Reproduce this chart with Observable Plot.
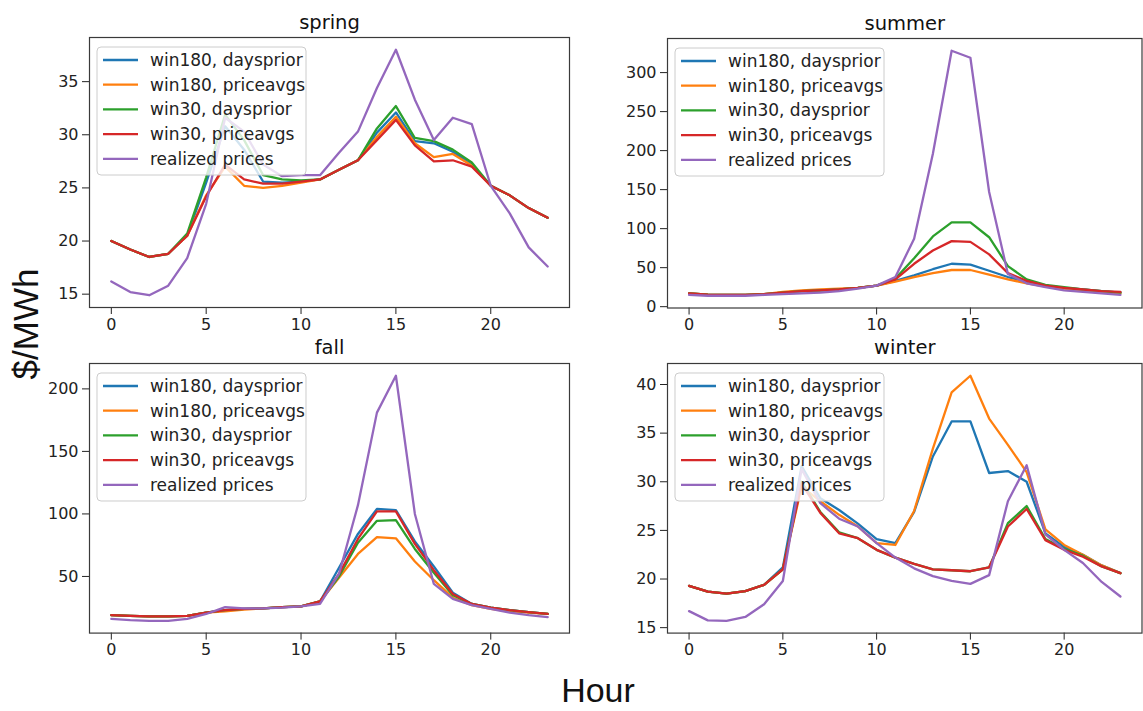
<!DOCTYPE html>
<html><head><meta charset="utf-8">
<script src="https://cdn.jsdelivr.net/npm/d3@7"></script>
<script src="https://cdn.jsdelivr.net/npm/@observablehq/plot@0.6"></script>
<style>
html,body{margin:0;padding:0;background:#fff;}
#wrap{position:relative;width:1143px;height:711px;overflow:hidden;background:#fff;}
#wrap svg{position:absolute;overflow:visible;}
</style></head><body><div id="wrap"></div>
<script>
// ---- data ----
const hours = d3.range(24);
const seriesNames = ["win180, daysprior", "win180, priceavgs", "win30, daysprior", "win30, priceavgs", "realized prices"];
const seriesColors = ["#1f77b4", "#ff7f0e", "#2ca02c", "#d62728", "#9467bd"];
const xTicks = [0, 5, 10, 15, 20];

const spring_win180_dp = [20.0,19.2,18.5,18.8,20.5,25.5,30.8,28.6,25.6,25.5,25.6,25.8,26.7,27.6,30.2,32.1,29.4,29.2,28.4,27.2,25.2,24.3,23.1,22.2];
const spring_win180_pa = [20.0,19.2,18.5,18.8,20.5,24.3,27.0,25.2,25.0,25.2,25.5,25.8,26.7,27.6,29.8,31.7,29.2,27.9,28.2,27.1,25.2,24.3,23.1,22.2];
const spring_win30_dp  = [20.0,19.2,18.5,18.8,20.7,26.0,31.9,29.5,26.2,25.8,25.7,25.8,26.7,27.6,30.6,32.7,29.7,29.4,28.6,27.4,25.2,24.3,23.1,22.2];
const spring_win30_pa  = [20.0,19.2,18.5,18.8,20.5,24.2,27.2,25.8,25.4,25.4,25.6,25.8,26.7,27.6,29.5,31.4,29.0,27.5,27.6,27.0,25.2,24.3,23.1,22.2];
const spring_realized  = [16.2,15.2,14.9,15.8,18.4,23.5,31.6,30.3,27.2,26.1,26.2,26.2,28.3,30.3,34.4,38.0,33.3,29.5,31.6,31.0,25.2,22.6,19.4,17.6];

const summer_win180_dp = [17,15.5,15,15,16,18,20,21,22,24,27,33,40,48,55,54,46,38,32,27,24,22,20,18];
const summer_win180_pa = [17,15.5,15,15,16,19,21,22,23,24,27,32,38,43,47,47,41,35,30,26,23,21,19,17];
const summer_win30_dp  = [17,15.5,15,15,16,18,20,21,22,24,27,36,62,90,108,108,89,52,35,28,25,22,20,18];
const summer_win30_pa  = [17,15.5,15,15,16,18,20,21,22,24,27,35,55,72,84,83,67,43,33,27,24,22,20,19];
const summer_realized  = [15,14,14,14,15,16,17,18,20,23,27,38,87,196,328,319,147,42,30,25,21,19,17,15];

const fall_win180_dp = [19,18.5,18,18,18.5,21,23,24,24.5,25.5,26,30,57,84,104,103,78,58,37,28,25,23,21.5,20];
const fall_win180_pa = [19,18.5,18,18,18.5,21,22,23.5,24.5,25.5,26,30,49,68,81.5,80.5,62,47,33,27,24,22,21,20];
const fall_win30_dp  = [19,18.5,18,18,18.5,21,23,24,24.5,25.5,26,30,50,77,94.5,95,72,53,35,28,25,23,21.5,20];
const fall_win30_pa  = [19,18.5,18,18,18.5,21,23,24,24.5,25.5,26,30,52,80,102,102,76,55,36,28,25,23,21.5,20];
const fall_realized  = [16,15,14.5,14.5,16,20,25.5,24.5,24.5,25,26,28,52,107,181,210.5,100,44,32,27,24,21,19,17.5];

const winter_win180_dp = [19.3,18.7,18.5,18.75,19.4,21.2,31.6,28.3,27.1,25.7,24.1,23.7,26.9,32.6,36.2,36.2,30.9,31.1,30.0,24.7,23.3,22.5,21.4,20.6];
const winter_win180_pa = [19.3,18.7,18.5,18.75,19.4,21.0,29.5,28.0,26.6,25.4,23.7,23.5,27.0,33.4,39.2,40.9,36.5,33.8,31.0,25.1,23.5,22.5,21.4,20.6];
const winter_win30_dp  = [19.3,18.7,18.5,18.75,19.4,21.0,30.0,26.9,24.8,24.2,23.0,22.2,21.55,21.0,20.9,20.8,21.2,25.75,27.5,24.1,23.1,22.4,21.3,20.6];
const winter_win30_pa  = [19.3,18.7,18.5,18.75,19.4,21.0,29.8,26.8,24.7,24.2,23.0,22.2,21.55,21.0,20.9,20.8,21.2,25.4,27.2,24.0,23.0,22.3,21.3,20.6];
const winter_realized  = [16.7,15.75,15.7,16.1,17.4,19.8,31.3,27.8,26.2,25.4,23.7,22.2,21.1,20.3,19.8,19.5,20.4,28.0,31.7,24.6,23.0,21.65,19.7,18.2];

const springTicks = [15, 20, 25, 30, 35];
const summerTicks = [0, 50, 100, 150, 200, 250, 300];
const fallTicks = [50, 100, 150, 200];
const winterTicks = [15, 20, 25, 30, 35, 40];

// ---- layout ----
const panels = [
  {title: "spring", series: [spring_win180_dp, spring_win180_pa, spring_win30_dp, spring_win30_pa, spring_realized], ticks: springTicks, fx: 89, fy: 37, fw: 480, fh: 270},
  {title: "summer", series: [summer_win180_dp, summer_win180_pa, summer_win30_dp, summer_win30_pa, summer_realized], ticks: summerTicks, fx: 666.5, fy: 37.5, fw: 474.5, fh: 269.5},
  {title: "fall", series: [fall_win180_dp, fall_win180_pa, fall_win30_dp, fall_win30_pa, fall_realized], ticks: fallTicks, fx: 89, fy: 362.7, fw: 480, fh: 269.6},
  {title: "winter", series: [winter_win180_dp, winter_win180_pa, winter_win30_dp, winter_win30_pa, winter_realized], ticks: winterTicks, fx: 666.5, fy: 362.7, fw: 474.5, fh: 269.6}
];

const wrap = document.getElementById("wrap");
const M = {l: 50, r: 4, t: 30, b: 34};

for (const p of panels) {
  const rows = [];
  p.series.forEach((vals, i) => vals.forEach((v, h) => rows.push({hour: hours[h], value: v, series: seriesNames[i]})));
  const lo = d3.min(rows, d => d.value), hi = d3.max(rows, d => d.value);
  const pad = (hi - lo) * 0.05;
  const plot = Plot.plot({
    width: M.l + p.fw + M.r,
    height: M.t + p.fh + M.b,
    marginLeft: M.l, marginRight: M.r, marginTop: M.t, marginBottom: M.b,
    style: {fontFamily: "'DejaVu Sans', sans-serif", fontSize: "16px", color: "#222", background: "transparent", overflow: "visible"},
    x: {domain: [-1.15, 24.15], ticks: xTicks, tickSize: 7, tickPadding: 4, label: null, tickFormat: d => String(d)},
    y: {domain: [lo - pad, hi + pad], ticks: p.ticks, tickSize: 7, tickPadding: 4, label: null, tickFormat: d => String(d)},
    color: {domain: seriesNames, range: seriesColors},
    marks: [
      Plot.line(rows, {x: "hour", y: "value", z: "series", stroke: "series", strokeWidth: 2.3}),
      Plot.frame({stroke: "#3a3a3a", strokeWidth: 1.2}),
      Plot.text([p.title], {text: d => d, frameAnchor: "top", lineAnchor: "bottom", dy: -9, fontSize: 19.5, fill: "#111"})
    ]
  });
  plot.style.left = (p.fx - M.l) + "px";
  plot.style.top = (p.fy - M.t) + "px";
  wrap.appendChild(plot);

  // legend (matplotlib-style, semi-transparent frame)
  const g = d3.select(plot).append("g").attr("transform", `translate(${M.l + 8},${M.t + 10})`)
    .attr("text-anchor", "start");
  g.append("rect").attr("width", 209).attr("height", 128).attr("rx", 4)
    .attr("fill", "white").attr("fill-opacity", 0.8).attr("stroke", "#cccccc").attr("stroke-width", 1);
  seriesNames.forEach((s, i) => {
    const cy = 13 + i * 24.7;
    g.append("line").attr("x1", 6).attr("x2", 41).attr("y1", cy).attr("y2", cy)
      .attr("stroke", seriesColors[i]).attr("stroke-width", 2.3);
    g.append("text").attr("x", 53).attr("y", cy).attr("dy", "0.35em").attr("text-anchor", "start")
      .attr("font-family", "'DejaVu Sans', sans-serif").attr("font-size", 17).attr("fill", "#222").text(s);
  });
}

// shared axis labels
const ov = d3.select(wrap).append("svg").attr("width", 1143).attr("height", 711).style("left", "0px").style("top", "0px");
ov.append("text").attr("x", 598).attr("y", 702).attr("text-anchor", "middle")
  .attr("font-family", "'Liberation Sans', Arial, sans-serif").attr("font-size", 34).attr("fill", "#111").text("Hour");
ov.append("text").attr("transform", "translate(38,324) rotate(-90)").attr("text-anchor", "middle")
  .attr("font-family", "'Liberation Sans', Arial, sans-serif").attr("font-size", 35).attr("fill", "#111").text("$/MWh");
</script></body></html>
